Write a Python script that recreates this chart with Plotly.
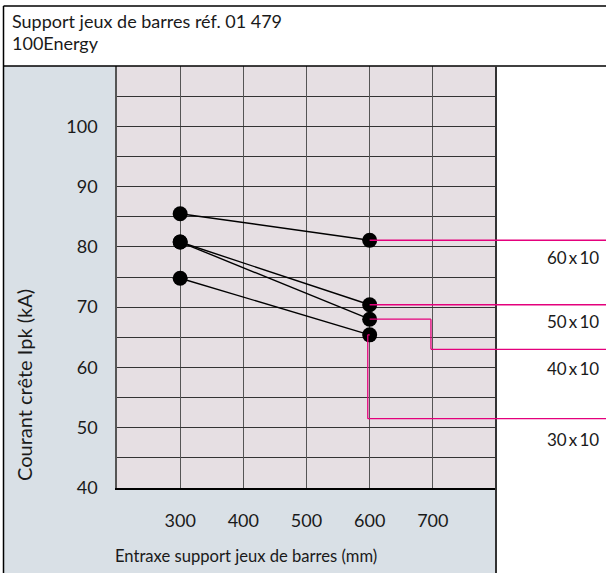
import plotly.graph_objects as go

# ---------------- data ----------------
x_mm = [300, 600]
series_names = ["60\u2009x\u200910", "50\u2009x\u200910", "40\u2009x\u200910", "30\u2009x\u200910"]
ipk_60x10 = [85.5, 81.1]
ipk_50x10 = [80.8, 70.4]
ipk_40x10 = [80.8, 68.0]
ipk_30x10 = [74.8, 65.4]
series_values = [ipk_60x10, ipk_50x10, ipk_40x10, ipk_30x10]

x_ticks = [300, 400, 500, 600, 700]
y_ticks = [40, 50, 60, 70, 80, 90, 100]

# label positions (kA) and leader elbows
label_y = [78.3, 67.7, 59.9, 48.1]
leader_elbow_x = [None, None, 697, 597]
leader_exit_y = [81.1, 70.4, 63.0, 51.5]

title_lines = ["Support jeux de barres réf. 01 479", "100Energy"]
x_title = "Entraxe support jeux de barres (mm)"
y_title = "Courant crête Ipk (kA)"

# ---------------- layout geometry ----------------
W, H = 606, 573
L, R, T, B = 117, 496, 66, 488
FONT = "Lato"
TXT = "#1a1a1a"
PINK = "#e4007c"
BLUE = "#d9e0e6"
PLOTBG = "#e6dfe3"


def px(xp):
    return (xp - L) / (R - L)


def py(yp):
    return (B - yp) / (B - T)


fig = go.Figure()
for name, vals in zip(series_names, series_values):
    fig.add_trace(go.Scatter(
        x=x_mm, y=vals, mode="lines+markers", name=name,
        line=dict(color="#000000", width=1.4),
        marker=dict(color="#000000", size=15),
        showlegend=False, hoverinfo="x+y+name",
    ))

shapes = []
# blue-grey panels
shapes.append(dict(type="rect", xref="paper", yref="paper", layer="below",
                   x0=px(3.5), x1=0, y0=py(H + 2), y1=py(T), fillcolor=BLUE, line_width=0))
shapes.append(dict(type="rect", xref="paper", yref="paper", layer="below",
                   x0=0, x1=1, y0=py(H + 2), y1=0, fillcolor=BLUE, line_width=0))
# frame lines
shapes.append(dict(type="line", xref="paper", yref="paper", x0=px(3.5), x1=px(W + 2),
                   y0=py(6), y1=py(6), line=dict(color="#000", width=1.5)))
shapes.append(dict(type="line", xref="paper", yref="paper", x0=px(3.5), x1=px(W + 2),
                   y0=py(T), y1=py(T), line=dict(color="#000", width=1.5)))
shapes.append(dict(type="line", xref="paper", yref="paper", x0=px(3.5), x1=px(3.5),
                   y0=py(6), y1=py(H + 2), line=dict(color="#000", width=1.5)))
shapes.append(dict(type="line", xref="paper", yref="paper", x0=1, x1=1,
                   y0=py(T), y1=py(H + 2), line=dict(color="#333", width=2)))

# pink leader lines
for i, vals in enumerate(series_values):
    xs, ys = x_mm[1], vals[1]
    ex, ey = leader_elbow_x[i], leader_exit_y[i]
    pl = dict(color=PINK, width=1.3)
    if ex is None:
        shapes.append(dict(type="line", xref="x", yref="y", x0=xs, x1=800, y0=ys, y1=ys, line=pl))
    else:
        if ex != xs:
            shapes.append(dict(type="line", xref="x", yref="y", x0=xs, x1=ex, y0=ys, y1=ys, line=pl))
        shapes.append(dict(type="line", xref="x", yref="y", x0=ex, x1=ex, y0=ys, y1=ey, line=pl))
        shapes.append(dict(type="line", xref="x", yref="y", x0=ex, x1=800, y0=ey, y1=ey, line=pl))
    shapes.append(dict(type="line", xref="paper", yref="y", x0=1, x1=px(W + 2), y0=ey, y1=ey, line=pl))

annotations = []
for k, line in enumerate(title_lines):
    annotations.append(dict(text=line, xref="paper", yref="paper", x=px(10), y=py(21 + 22 * k),
                            xanchor="left", yanchor="middle", showarrow=False,
                            font=dict(family=FONT, size=18, color=TXT)))
for name, ly in zip(series_names, label_y):
    annotations.append(dict(text=name, xref="paper", yref="y", x=px(601), y=ly,
                            xanchor="right", yanchor="middle", showarrow=False,
                            font=dict(family=FONT, size=17, color=TXT)))
annotations.append(dict(text=x_title, xref="paper", yref="paper", x=px(246), y=py(556),
                        xanchor="center", yanchor="middle", showarrow=False,
                        font=dict(family=FONT, size=16.6, color=TXT)))
annotations.append(dict(text=y_title, xref="paper", yref="paper", x=px(24), y=py(385),
                        xanchor="center", yanchor="middle", showarrow=False, textangle=-90,
                        font=dict(family=FONT, size=20, color=TXT)))

fig.update_layout(
    width=W, height=H,
    margin=dict(l=L, r=W - R, t=T, b=H - B, pad=0),
    paper_bgcolor="#ffffff", plot_bgcolor=PLOTBG,
    shapes=shapes, annotations=annotations,
    font=dict(family=FONT, size=18, color=TXT),
    xaxis=dict(range=[200, 800], tickvals=x_ticks, ticktext=[str(v) for v in x_ticks],
               showgrid=True, gridcolor="#555555", gridwidth=1,
               showline=True, linecolor="#000", linewidth=1.5,
               ticks="", ticklabelstandoff=16, zeroline=False, fixedrange=True,
               tickfont=dict(family=FONT, size=18, color=TXT)),
    yaxis=dict(range=[40, 110], tickvals=y_ticks, ticktext=[str(v) for v in y_ticks],
               showgrid=True, gridcolor="#333333", gridwidth=1,
               minor=dict(dtick=5, tick0=40, showgrid=True, gridcolor="#333333", gridwidth=1),
               showline=True, linecolor="#555", linewidth=1.5,
               ticks="", ticklabelstandoff=14, zeroline=False, fixedrange=True,
               tickfont=dict(family=FONT, size=18, color=TXT)),
)

fig.write_html("out.html", config={"displayModeBar": False},
               post_script="document.body.style.margin='0';document.body.style.overflow='hidden';")
